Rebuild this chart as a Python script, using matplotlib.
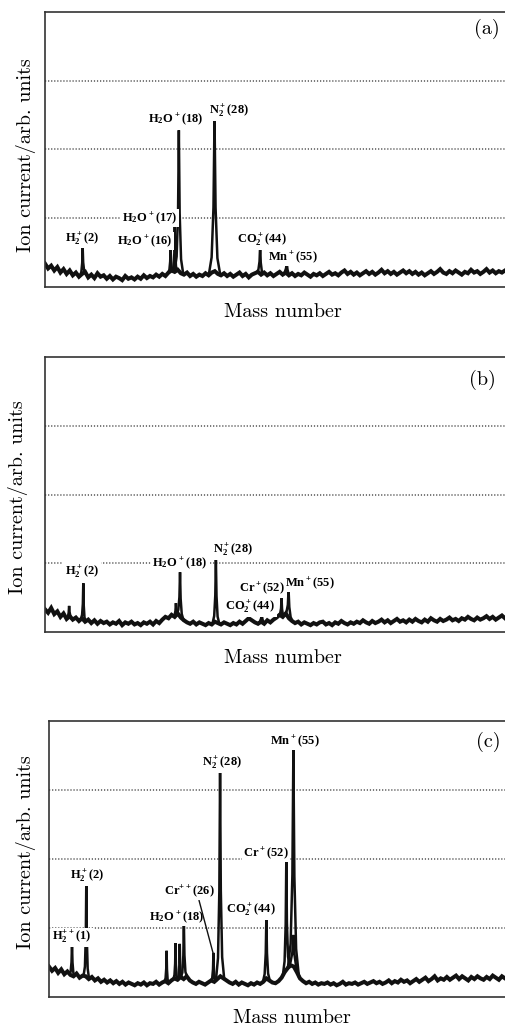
import numpy as np
import matplotlib
matplotlib.use("Agg")
import matplotlib.pyplot as plt

plt.rcParams['mathtext.default'] = 'regular'

# ---------------- data ----------------
# baseline / noise trace of each spectrum (ion current, arb. units; gridlines at 1, 2, 3)
noise_a = [0.34, 0.27, 0.31, 0.24, 0.29, 0.21, 0.26, 0.19, 0.24, 0.17,
           0.21, 0.15, 0.19, 0.22, 0.14, 0.18, 0.13, 0.20, 0.15, 0.17,
           0.12, 0.16, 0.11, 0.15, 0.13, 0.10, 0.16, 0.12, 0.14, 0.11,
           0.15, 0.12, 0.17, 0.13, 0.16, 0.14, 0.18, 0.15, 0.19, 0.16,
           0.21, 0.24, 0.22, 0.25, 0.20, 0.18, 0.21, 0.16, 0.19, 0.15,
           0.18, 0.16, 0.20, 0.17, 0.21, 0.23, 0.19, 0.17, 0.20, 0.16,
           0.19, 0.15, 0.18, 0.21, 0.16, 0.19, 0.14, 0.18, 0.20, 0.22,
           0.18, 0.21, 0.17, 0.20, 0.16, 0.19, 0.22, 0.18, 0.21, 0.17,
           0.20, 0.16, 0.19, 0.17, 0.21, 0.18, 0.15, 0.19, 0.17, 0.20,
           0.16, 0.19, 0.22, 0.18, 0.20, 0.17, 0.21, 0.24, 0.19, 0.22,
           0.18, 0.21, 0.17, 0.20, 0.23, 0.19, 0.22, 0.18, 0.21, 0.25,
           0.20, 0.23, 0.19, 0.22, 0.18, 0.21, 0.24, 0.20, 0.23, 0.19,
           0.22, 0.18, 0.21, 0.17, 0.20, 0.23, 0.19, 0.22, 0.26, 0.21,
           0.19, 0.23, 0.20, 0.24, 0.21, 0.18, 0.22, 0.20, 0.25, 0.21,
           0.23, 0.19, 0.22, 0.26, 0.21, 0.24, 0.20, 0.23, 0.21, 0.24]

noise_b = [0.33, 0.28, 0.35, 0.26, 0.30, 0.22, 0.27, 0.19, 0.23, 0.18,
           0.21, 0.16, 0.20, 0.15, 0.18, 0.13, 0.17, 0.12, 0.16, 0.13,
           0.15, 0.11, 0.14, 0.12, 0.16, 0.10, 0.14, 0.12, 0.15, 0.11,
           0.13, 0.10, 0.14, 0.12, 0.15, 0.11, 0.16, 0.13, 0.18, 0.22,
           0.20, 0.25, 0.22, 0.27, 0.21, 0.17, 0.14, 0.12, 0.15, 0.11,
           0.14, 0.12, 0.10, 0.13, 0.11, 0.15, 0.13, 0.11, 0.14, 0.12,
           0.10, 0.13, 0.11, 0.15, 0.12, 0.16, 0.20, 0.17, 0.14, 0.12,
           0.15, 0.12, 0.17, 0.14, 0.18, 0.21, 0.25, 0.22, 0.27, 0.20,
           0.16, 0.13, 0.15, 0.11, 0.14, 0.12, 0.10, 0.13, 0.11, 0.14,
           0.15, 0.11, 0.13, 0.10, 0.14, 0.12, 0.16, 0.13, 0.11, 0.14,
           0.12, 0.15, 0.13, 0.17, 0.14, 0.12, 0.16, 0.13, 0.15, 0.18,
           0.14, 0.17, 0.13, 0.16, 0.19, 0.15, 0.17, 0.14, 0.18, 0.15,
           0.19, 0.16, 0.14, 0.18, 0.15, 0.20, 0.17, 0.15, 0.19, 0.16,
           0.18, 0.21, 0.17, 0.19, 0.16, 0.20, 0.18, 0.22, 0.19, 0.17,
           0.21, 0.18, 0.20, 0.23, 0.19, 0.22, 0.18, 0.21, 0.24, 0.20]

noise_c = [0.44, 0.38, 0.42, 0.35, 0.40, 0.33, 0.37, 0.32, 0.30, 0.34,
           0.28, 0.31, 0.30, 0.26, 0.29, 0.24, 0.27, 0.22, 0.25, 0.21,
           0.24, 0.20, 0.23, 0.19, 0.22, 0.18, 0.21, 0.19, 0.17, 0.20,
           0.18, 0.21, 0.17, 0.20, 0.19, 0.22, 0.18, 0.21, 0.23, 0.20,
           0.24, 0.27, 0.25, 0.29, 0.26, 0.30, 0.24, 0.21, 0.19, 0.22,
           0.20, 0.18, 0.21, 0.24, 0.22, 0.26, 0.30, 0.27, 0.24, 0.21,
           0.19, 0.22, 0.18, 0.21, 0.19, 0.17, 0.20, 0.18, 0.21, 0.19,
           0.22, 0.27, 0.24, 0.21, 0.20, 0.23, 0.28, 0.36, 0.42, 0.46,
           0.44, 0.36, 0.27, 0.23, 0.20, 0.22, 0.19, 0.21, 0.18, 0.20,
           0.19, 0.21, 0.18, 0.20, 0.17, 0.19, 0.22, 0.18, 0.20, 0.19,
           0.21, 0.18, 0.20, 0.22, 0.19, 0.21, 0.23, 0.20, 0.22, 0.19,
           0.21, 0.24, 0.20, 0.23, 0.21, 0.25, 0.22, 0.24, 0.20, 0.23,
           0.26, 0.22, 0.25, 0.28, 0.23, 0.26, 0.30, 0.24, 0.27, 0.25,
           0.29, 0.25, 0.28, 0.31, 0.26, 0.30, 0.27, 0.24, 0.29, 0.26,
           0.30, 0.27, 0.25, 0.29, 0.26, 0.31, 0.28, 0.25, 0.30, 0.27]

# peaks: mass number and peak-top height
peak_mass_a = [2, 16, 17, 18, 28, 44, 55]
peak_height_a = [0.57, 0.57, 0.89, 2.28, 2.46, 0.60, 0.35]

peak_mass_b = [1, 2, 17, 18, 28, 44, 52, 55]
peak_height_b = [0.38, 0.71, 0.42, 0.87, 1.06, 0.25, 0.49, 0.61]

peak_mass_c = [1, 2, 14, 16, 17, 18, 26, 28, 44, 52, 55, 55]
peak_height_c = [0.77, 1.67, 0.67, 0.78, 0.77, 1.06, 0.64, 3.26, 1.16, 1.99, 0.90, 3.59]

# peak labels
labels_a = ["H$_2^+$(2)", "H$_2$O$^+$(16)", "H$_2$O$^+$(17)", "H$_2$O$^+$(18)",
            "N$_2^+$(28)", "CO$_2^+$(44)", "Mn$^+$(55)"]
labels_b = ["H$_2^+$(2)", "H$_2$O$^+$(18)", "N$_2^+$(28)", "CO$_2^+$(44)",
            "Cr$^+$(52)", "Mn$^+$(55)"]
labels_c = ["H$_2^{++}$(1)", "H$_2^+$(2)", "H$_2$O$^+$(18)", "Cr$^{++}$(26)",
            "N$_2^+$(28)", "CO$_2^+$(44)", "Cr$^+$(52)", "Mn$^+$(55)"]

panel_tags = ["(a)", "(b)", "(c)"]
xlabel_text = "Mass number"
ylabel_text = "Ion current/arb. units"

# ---------------- layout / style ----------------
W, H = 505, 1026
fig = plt.figure(figsize=(W / 100, H / 100), dpi=100)

def fx(x):
    return x / W

def fy(y):
    return 1 - y / H

# axes boxes in pixels: left, top, right, bottom ; x-limits (mass)
boxes = [(45, 12, 505, 287), (45, 357, 505, 632), (49, 721, 505, 997)]
xlims = [(0.0936, 191.4), (0.087, 188.9), (0.111, 183.6)]

# peak half widths (sqrt-mass units)
peak_w_a = [0.08, 0.07, 0.07, 0.13, 0.17, 0.10, 0.12]
peak_w_b = [0.07, 0.07, 0.08, 0.10, 0.10, 0.12, 0.08, 0.12]
peak_w_c = [0.08, 0.08, 0.06, 0.06, 0.06, 0.09, 0.07, 0.12, 0.10, 0.10, 0.17, 0.16]

# label positions (axes fraction, centre)
lab_pos_a = [(0.0815, 0.175), (0.217, 0.167), (0.228, 0.251), (0.283, 0.611),
             (0.400, 0.640), (0.472, 0.171), (0.539, 0.109)]
lab_pos_b = [(0.0804, 0.219), (0.293, 0.252), (0.409, 0.298), (0.446, 0.091),
             (0.472, 0.160), (0.576, 0.178)]
lab_pos_c = [(0.050, 0.217), (0.083, 0.438), (0.279, 0.290), (0.307, 0.384),
             (0.379, 0.848), (0.443, 0.315), (0.476, 0.522), (0.539, 0.928)]

xlab_pos = [(283, 312), (283, 658), (292, 1018)]
ylab_pos = [(26, 155), (18, 497), (26, 852)]
tag_pos = [(487, 29), (482, 380), (488, 742)]

noises = [noise_a, noise_b, noise_c]
pmass = [peak_mass_a, peak_mass_b, peak_mass_c]
pheight = [peak_height_a, peak_height_b, peak_height_c]
pw = [peak_w_a, peak_w_b, peak_w_c]
labs = [labels_a, labels_b, labels_c]
lpos = [lab_pos_a, lab_pos_b, lab_pos_c]

shape_off = np.array([-1.0, -0.5, -0.18, 0.0, 0.18, 0.5, 1.0])
shape_frac = np.array([0.0, 0.10, 0.42, 1.0, 0.42, 0.10, 0.0])

fwd = lambda m: np.sqrt(np.clip(m, 0, None))
inv = lambda s: np.asarray(s) ** 2

noise_kw = dict(color="#111111", lw=2.9, solid_joinstyle="miter", zorder=2)
peak_kw = dict(color="#111111", lw=1.8, solid_joinstyle="miter", zorder=2)
lab_font = dict(family=["Liberation Serif", "DejaVu Serif"], weight="bold", size=9)
cm_font = "cmr10"

for k in range(3):
    l, t, r, b = boxes[k]
    ax = fig.add_axes([fx(l), fy(b), (r - l) / W, (b - t) / H])
    ax.set_xscale("function", functions=(fwd, inv))
    lo, hi = xlims[k]
    ax.set_xlim(lo, hi)
    ax.set_ylim(0, 4)

    # noise trace on even sqrt-mass sampling across the axis
    s_grid = np.linspace(np.sqrt(lo), np.sqrt(hi), len(noises[k]))
    ax.plot(s_grid ** 2, noises[k], **noise_kw)

    # peaks
    for m, h, w in zip(pmass[k], pheight[k], pw[k]):
        s0 = np.sqrt(m)
        ss = s0 + shape_off * w
        base_pts = np.interp(ss, s_grid, noises[k])
        base0 = np.interp(s0, s_grid, noises[k])
        ys = base_pts + shape_frac * (h - base0)
        ax.plot(ss ** 2, ys, **peak_kw)

    # dotted horizontal guides
    ax.set_yticks([1, 2, 3])
    ax.set_xticks([])
    ax.grid(axis="y", color="#555555", lw=1.1, linestyle=(0, (0.8, 1.2)))
    ax.tick_params(left=False, labelleft=False, bottom=False, labelbottom=False)
    ax.set_axisbelow(True)
    for side, sp in ax.spines.items():
        sp.set_color("#333333")
        sp.set_linewidth(1.2)
    ax.spines["right"].set_visible(False)

    # peak labels
    for txt, (px, py) in zip(labs[k], lpos[k]):
        if txt.startswith("Cr$^{++}$"):
            ax.annotate(txt, xy=(26.2, 0.58), xycoords="data",
                        xytext=(px, py), textcoords="axes fraction",
                        ha="center", va="center", zorder=4, **lab_font,
                        bbox=dict(boxstyle="square,pad=0.12", fc="white", ec="none"),
                        arrowprops=dict(arrowstyle="-", lw=1.0, color="#111111",
                                        shrinkA=0, shrinkB=0, relpos=(0.69, 0.0)))
        else:
            ax.text(px, py, txt, transform=ax.transAxes, ha="center", va="center",
                    zorder=4, **lab_font,
                    bbox=dict(boxstyle="square,pad=0.12", fc="white", ec="none"))

    # panel tag
    fig.text(fx(tag_pos[k][0]), fy(tag_pos[k][1]), panel_tags[k], ha="center",
             va="center", family=cm_font, size=14.5)
    # axis titles
    fig.text(fx(xlab_pos[k][0]), fy(xlab_pos[k][1]), xlabel_text, ha="center",
             va="center", family=cm_font, size=14.5)
    fig.text(fx(ylab_pos[k][0]), fy(ylab_pos[k][1]), ylabel_text, ha="center",
             va="center", rotation=90, family=cm_font, size=14.5)

fig.savefig("out.png", dpi=100, facecolor="white")
